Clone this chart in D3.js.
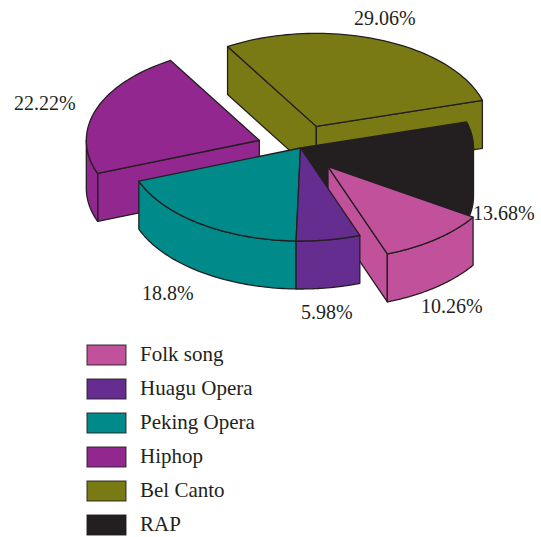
<!DOCTYPE html>
<html>
<head>
<meta charset="utf-8">
<script src="https://cdn.jsdelivr.net/npm/d3@7"></script>
<style>
  html, body { margin: 0; padding: 0; background: #fff; }
  svg { display: block; }
  text { font-family: "Liberation Serif", serif; fill: #231f20; }
</style>
</head>
<body>
<script>
// Share of each music genre, clockwise around the pie
const genres = ["Folk song", "Huagu Opera", "Peking Opera", "Hiphop", "Bel Canto", "RAP"];
const shares = [10.26, 5.98, 18.8, 22.22, 29.06, 13.68];
const shareLabels = ["10.26%", "5.98%", "18.8%", "22.22%", "29.06%", "13.68%"];
const colors = ["#c2519b", "#652d90", "#008a8a", "#92278f", "#7a7a15", "#231f20"];
const explode = [0.255, 0, 0, 0.252, 0.25, 0];

const width = 541, height = 537;
const cx = 300.5, cy = 148, rx = 173, ry = 93, depth = 48;
const startDeg = 123;
const ink = "#231f20";

const svg = d3.select("body").append("svg").attr("width", width).attr("height", height);

// Flattened circle: unit coordinates onto the tilted disc
const xs = d3.scaleLinear().domain([-1, 1]).range([cx - rx, cx + rx]);
const ys = d3.scaleLinear().domain([-1, 1]).range([cy - ry, cy + ry]);

const pie = d3.pie().sort(null)
  .startAngle(startDeg * Math.PI / 180)
  .endAngle((startDeg + 360) * Math.PI / 180);

const slices = pie(shares).map((s, i) => {
  const mid = (s.startAngle + s.endAngle) / 2;
  return {
    i, a0: s.startAngle, a1: s.endAngle,
    ox: explode[i] * Math.sin(mid),
    oy: -explode[i] * Math.cos(mid)
  };
});

const line = d3.line().x(p => p[0]).y(p => p[1]);
const pt = (s, a, drop = 0) => [
  xs(s.ox + Math.sin(a)),
  ys(s.oy - Math.cos(a)) + drop
];
const apex = (s, drop = 0) => [xs(s.ox), ys(s.oy) + drop];
const arcPts = (s, a0, a1, drop = 0) =>
  d3.range(0, 61).map(k => pt(s, a0 + (a1 - a0) * k / 60, drop));

function drawFace(points, color) {
  svg.append("path")
    .attr("d", line(points) + "Z")
    .attr("fill", color)
    .attr("stroke", ink)
    .attr("stroke-width", 1.3)
    .attr("stroke-linejoin", "round");
}

// The part of the rim that faces the viewer lies between 90 and 270 degrees
function drawRim(s, color) {
  const tau = 2 * Math.PI;
  [0, tau].forEach(shift => {
    const lo = Math.max(s.a0, Math.PI / 2 + shift);
    const hi = Math.min(s.a1, 3 * Math.PI / 2 + shift);
    if (hi > lo) {
      drawFace(arcPts(s, lo, hi).concat(arcPts(s, hi, lo, depth)), color);
    }
  });
}

function drawSlice(s) {
  const color = colors[s.i];
  // Cut faces are visible only when they turn towards the bottom of the view
  if (Math.sin(s.a0) < 0) {
    drawFace([apex(s), pt(s, s.a0), pt(s, s.a0, depth), apex(s, depth)], color);
  }
  if (Math.sin(s.a1) > 0) {
    drawFace([apex(s), pt(s, s.a1), pt(s, s.a1, depth), apex(s, depth)], color);
  }
  drawRim(s, color);
  drawFace([apex(s)].concat(arcPts(s, s.a0, s.a1)), color);
}

// Painter's order, back to front
[4, 3, 5, 0, 2, 1].forEach(i => drawSlice(slices[i]));

// Percentage labels
const labelAnchors = [[421, 313], [301, 319], [142, 300], [14, 110], [354, 25], [473, 220]];
svg.selectAll("text.share").data(shareLabels).join("text")
  .attr("class", "share")
  .attr("x", (d, i) => labelAnchors[i][0])
  .attr("y", (d, i) => labelAnchors[i][1])
  .attr("font-size", 20)
  .text(d => d);

// Legend
const legendY = d3.scalePoint().domain(genres).range([345, 515]);
const legend = svg.selectAll("g.key").data(genres).join("g")
  .attr("class", "key")
  .attr("transform", d => `translate(87,${legendY(d)})`);
legend.append("rect")
  .attr("width", 39).attr("height", 20)
  .attr("fill", (d, i) => colors[i])
  .attr("stroke", "#231f20").attr("stroke-opacity", 0.75).attr("stroke-width", 1.2);
legend.append("text")
  .attr("x", 53).attr("y", 16)
  .attr("font-size", 21)
  .text(d => d);
</script>
</body>
</html>
